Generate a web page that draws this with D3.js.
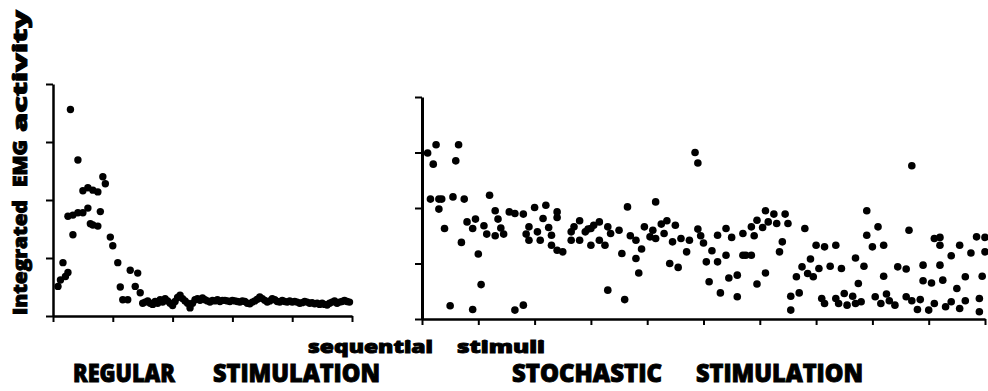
<!DOCTYPE html>
<html>
<head>
<meta charset="utf-8">
<script src="https://cdn.jsdelivr.net/npm/d3@7"></script>
<style>
  body { margin: 0; background: #fff; }
  text { font-family: "Open Sans", "DejaVu Sans", sans-serif; font-weight: 800; fill: #000; stroke: #000; stroke-width: 0.9; }
</style>
</head>
<body>
<svg id="chart" width="988" height="391"></svg>
<script>
// regular stimulation: first stimuli (number, integrated EMG in tick units)
const regularN = [2, 3, 4, 5, 6, 6, 7, 8, 8, 10, 10, 12, 12, 14, 14, 15, 16, 16, 18, 18, 19, 20, 21, 23, 24, 26, 27, 28, 30, 31, 33, 34, 35];
const regularV = [0.51, 0.62, 0.92, 0.68, 0.75, 1.72, 3.56, 1.40, 1.74, 2.69, 1.78, 2.16, 1.78, 1.86, 2.21, 1.59, 2.17, 1.57, 2.14, 1.55, 1.80, 2.40, 2.28, 1.36, 1.21, 0.92, 0.50, 0.28, 0.28, 0.79, 0.51, 0.74, 0.40];
// regular stimulation: habituated tail, stimuli 36..119
const regularTailStart = 36;
const regularTailV = [
  0.22, 0.24, 0.26, 0.22, 0.20, 0.25, 0.22, 0.28, 0.24, 0.30, 0.26, 0.22,
  0.18, 0.25, 0.32, 0.36, 0.30, 0.26, 0.22, 0.14, 0.22, 0.28,
  0.30, 0.27, 0.31, 0.28, 0.26, 0.24, 0.27, 0.26, 0.28, 0.25, 0.27, 0.27, 0.26,
  0.25, 0.27, 0.26, 0.25, 0.24, 0.26, 0.25, 0.22, 0.21, 0.24, 0.26, 0.29, 0.33, 0.30, 0.27,
  0.24, 0.26, 0.30, 0.28, 0.25, 0.24, 0.27, 0.25, 0.24, 0.26, 0.24, 0.25, 0.24, 0.22, 0.23,
  0.25, 0.24, 0.22, 0.23, 0.21, 0.22, 0.20, 0.22, 0.20, 0.19, 0.22, 0.24, 0.26, 0.22, 0.24, 0.25, 0.27, 0.25, 0.24
];

// stochastic stimulation (number, integrated EMG in tick units)
const stochN = [2, 3, 4, 5, 6, 6, 7, 8, 10, 11, 12, 13, 14, 15, 16, 18, 18, 19, 20, 21, 22, 23, 24, 26, 26, 27, 28, 29, 31, 33, 33, 36, 36, 37, 38, 38, 40, 41, 42, 43, 44, 45, 46, 46, 48, 48, 48,
  50, 53, 53, 54, 56, 56, 58, 59, 60, 60, 61, 63, 63, 65, 66, 66, 67, 70, 71, 72, 73, 74, 76, 76, 77, 78, 79, 81, 82, 83, 83, 85, 86, 87, 88, 89, 90, 91, 92, 94, 95, 97, 98, 98,
  99, 100, 101, 102, 103, 105, 105, 106, 108, 108, 109, 110, 112, 112, 114, 114, 115, 117, 117, 118, 119, 119, 121, 122, 122, 123, 125, 126, 127, 128, 129, 130, 131, 131, 133, 134, 135, 136, 137, 138, 139, 140, 141, 142, 143, 143, 145, 147, 147,
  148, 149, 150, 151, 153, 154, 154, 155, 156, 157, 158, 158, 160, 161, 162, 163, 164, 164, 165, 166, 168, 169, 172, 172, 173, 174, 174, 176, 177, 178, 178, 180, 181, 182, 182, 184, 184, 184, 185, 186, 188, 188, 190, 191, 191, 193, 193, 195, 197, 198, 198, 199, 200, 200];
const stochV = [2.99, 2.16, 2.79, 3.14, 1.98, 2.16, 2.16, 1.63, 0.24, 2.20, 2.85, 3.14, 1.38, 2.16, 1.75, 1.63, 0.17, 1.80, 1.17, 0.62, 1.68, 1.53, 2.23, 1.50, 1.95, 1.80, 1.64, 1.53, 1.93, 1.90, 0.16, 0.25, 1.89, 1.53, 1.66, 1.42, 2.01, 1.57, 1.42, 1.81, 2.05, 1.65, 1.51, 1.33, 1.83, 1.93, 1.24,
  1.21, 1.42, 1.57, 1.66, 1.77, 1.42, 1.57, 1.62, 1.63, 1.33, 1.69, 1.75, 1.42, 1.33, 0.52, 1.66, 1.54, 1.60, 1.18, 0.35, 2.02, 1.50, 1.42, 1.09, 0.83, 1.26, 1.66, 1.48, 1.60, 1.45, 2.11, 1.71, 1.54, 1.77, 1.00, 1.39, 1.69, 0.93, 1.45, 1.21, 1.42, 3.00, 2.81, 1.62,
  1.50, 1.37, 1.03, 0.67, 1.23, 1.51, 1.03, 0.47, 1.63, 1.15, 0.74, 1.47, 0.79, 0.40, 1.15, 1.54, 1.15, 1.66, 1.15, 1.50, 0.63, 1.78, 1.65, 1.95, 0.83, 1.75, 1.89, 1.72, 1.21, 1.39, 1.89, 1.72, 0.16, 0.41, 0.76, 0.47, 0.94, 1.63, 0.82, 1.08, 0.76, 1.33, 0.91, 0.37, 1.30, 0.28, 0.95, 1.33, 0.37,
  0.28, 0.91, 0.46, 0.25, 0.41, 1.10, 0.28, 0.64, 0.31, 0.95, 1.95, 1.51, 1.30, 0.40, 1.66, 0.28, 1.33, 0.77, 0.45, 0.33, 0.25, 0.94, 0.90, 0.40, 1.60, 0.33, 2.76, 0.17, 0.35, 0.97, 0.69, 0.16, 0.65, 1.45, 0.28, 1.33, 1.47, 0.97, 0.70, 0.22, 0.31, 1.14, 0.55, 1.33, 0.19, 0.33, 0.76, 1.19, 1.48, 0.37, 0.13, 0.77, 1.47, 1.21];

const yTicks = [0, 1, 2, 3, 4];
const regularTicks = [0, 24, 48, 72, 96, 120];
const stochTicks = [0, 20, 40, 60, 80, 100, 120, 140, 160, 180, 200];

const yTitle = ["Integrated", "EMG", "activity"];
const xTitle = ["sequential", "stimuli"];
const panelTitles = [["REGULAR", "STIMULATION"], ["STOCHASTIC", "STIMULATION"]];

const svg = d3.select("#chart");
svg.append("rect").attr("width", 988).attr("height", 391).attr("fill", "#fff");

// scales
const xReg = d3.scaleLinear().domain([0, 120]).range([53, 352]);
const yReg = d3.scaleLinear().domain([0, 4]).range([316, 84]);
const xSto = d3.scaleLinear().domain([0, 200]).range([422, 985]);
const ySto = d3.scaleLinear().domain([0, 4]).range([319, 97]);

function drawAxes(x, y, xt, yw) {
  const gx = svg.append("g")
    .attr("transform", `translate(0,${y(0)})`)
    .call(d3.axisBottom(x).tickValues(xt).tickSize(6).tickSizeOuter(0).tickFormat(""));
  gx.select(".domain").attr("stroke-width", 2.5);
  gx.selectAll(".tick line").attr("stroke-width", 2);

  const gy = svg.append("g")
    .attr("transform", `translate(${x(0)},0)`)
    .call(d3.axisLeft(y).tickValues(yTicks).tickSize(7).tickSizeOuter(0).tickFormat(""));
  gy.select(".domain").attr("stroke-width", yw);
  gy.selectAll(".tick line").attr("stroke-width", 2);
}

drawAxes(xReg, yReg, regularTicks, 2.5);
drawAxes(xSto, ySto, stochTicks, 3);

// regular points
const regData = regularN.map((n, i) => ({ n: n, v: regularV[i] }))
  .concat(regularTailV.map((v, i) => ({ n: regularTailStart + i, v: v })));

svg.append("g").selectAll("circle")
  .data(regData)
  .join("circle")
  .attr("cx", d => xReg(d.n))
  .attr("cy", d => yReg(d.v))
  .attr("r", 3.7)
  .attr("fill", "#000");

// stochastic points
const stoData = stochN.map((n, i) => ({ n: n, v: stochV[i] }));

svg.append("g").selectAll("circle")
  .data(stoData)
  .join("circle")
  .attr("cx", d => xSto(d.n))
  .attr("cy", d => ySto(d.v))
  .attr("r", 3.8)
  .attr("fill", "#000");

// y title, rotated, one word per piece
const yPos = [[315, 115], [187, 47], [132, 122]];
yTitle.forEach((w, i) => {
  svg.append("text")
    .attr("transform", `translate(27,${yPos[i][0]}) rotate(-90)`)
    .attr("font-size", 19)
    .attr("textLength", yPos[i][1])
    .attr("lengthAdjust", "spacingAndGlyphs")
    .text(w);
});

// x title
const xPos = [[308, 125], [457, 88]];
xTitle.forEach((w, i) => {
  svg.append("text")
    .attr("x", xPos[i][0]).attr("y", 353)
    .attr("font-size", 18)
    .attr("textLength", xPos[i][1])
    .attr("lengthAdjust", "spacingAndGlyphs")
    .text(w);
});

// panel titles
const tPos = [[[73, 102], [213, 167]], [[512, 150], [696, 167]]];
panelTitles.forEach((words, p) => {
  words.forEach((w, i) => {
    svg.append("text")
      .attr("x", tPos[p][i][0]).attr("y", 382)
      .attr("font-size", 24)
      .attr("textLength", tPos[p][i][1])
      .attr("lengthAdjust", "spacingAndGlyphs")
      .text(w);
  });
});
</script>
</body>
</html>
